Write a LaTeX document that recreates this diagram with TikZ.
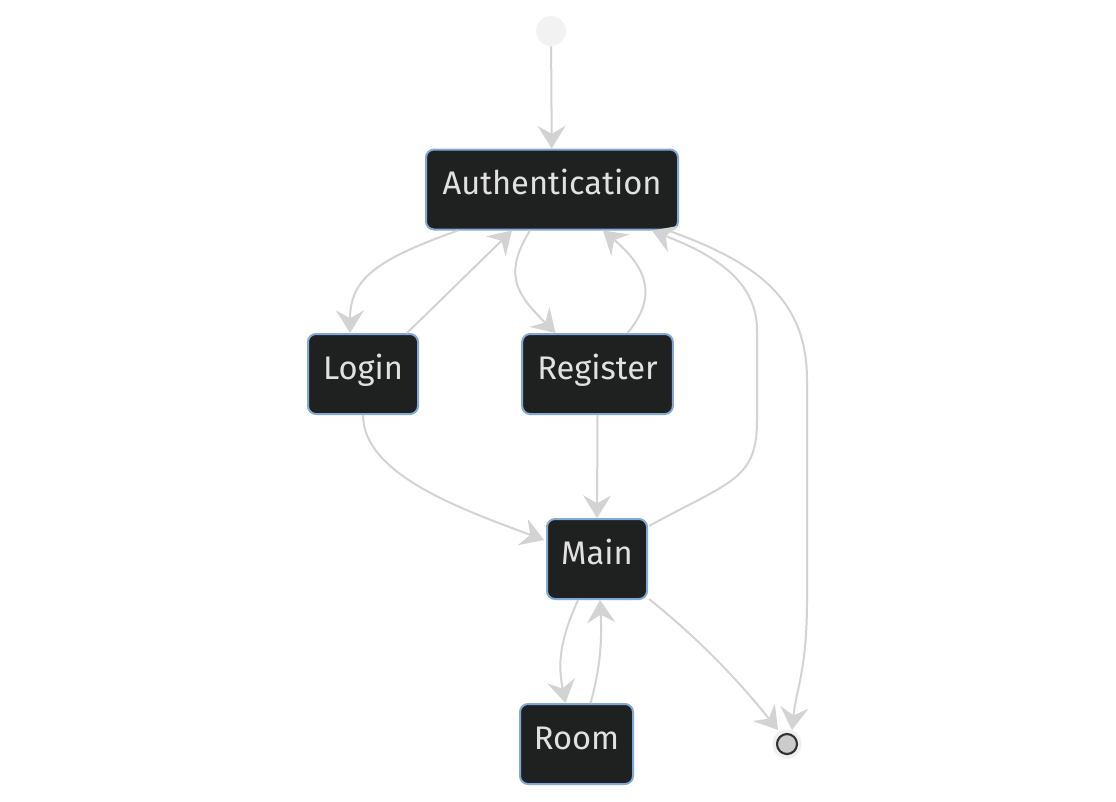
\documentclass[tikz,border=0pt]{standalone}
\usepackage{fontspec}
\setmainfont{Fira Sans}
\usetikzlibrary{arrows.meta}
\definecolor{boxfill}{HTML}{1F2020}
\definecolor{boxline}{HTML}{81A9D6}
\definecolor{boxtext}{HTML}{E2E1E1}
\definecolor{wire}{HTML}{D3D3D3}
\begin{document}
\begin{tikzpicture}[x=0.75pt,y=-0.75pt,
    state/.style={rectangle,rounded corners=6pt,draw=boxline,line width=1.5pt,fill=boxfill,
        text=boxtext,font=\fontsize{24.5}{28}\selectfont,minimum height=60pt,inner sep=0pt,
        text height=8pt,text depth=0pt},
    trans/.style={draw=wire,line width=1.5pt,-{Stealth[length=17pt,width=21pt,inset=6pt]}}]
    \useasboundingbox (0,0) rectangle (1116,801);

    \begin{scope}
        \node [circle,fill=black!5,minimum size=22.5pt,inner sep=0pt] (start) at (551,31) {};
        \node [state,minimum width=189pt] (auth) at (552,189.5) {Authentication};
        \node [state,minimum width=82.5pt] (login) at (363,374) {Login};
        \node [state,minimum width=113pt] (reg) at (597.5,374) {Register};
        \node [state,minimum width=75pt] (main) at (597,559) {Main};
        \node [state,minimum width=84.75pt] (room) at (576.5,744) {Room};
        \node [circle,fill=black!6,minimum size=22pt,inner sep=0pt] (stop) at (787,744) {};
        \node [circle,draw=black!80,line width=1.6pt,fill=black!20,minimum size=15pt,inner sep=0pt] at (stop) {};
    \end{scope}

    \begin{scope}
        \draw [trans] (start) -- (auth);
        \draw [trans] ([shift={(-94,0)}]auth.south) .. controls +(-78,28) and +(0,-56) .. ([shift={(-13,0)}]login.north);
        \draw [trans] ([shift={(44,0)}]login.north) -- ([shift={(-40,0)}]auth.south);
        \draw [trans] ([shift={(-22,0)}]auth.south) .. controls +(-28,45) and +(-38,-38) .. ([shift={(-42,0)}]reg.north);
        \draw [trans] ([shift={(30,0)}]reg.north) .. controls +(30,-36) and +(45,38) .. ([shift={(51,0)}]auth.south);
        \draw [trans] ([shift={(1,8)}]main.north east) .. controls +(82,-45) and +(0,60) .. (757,420)
            -- (757,330) .. controls +(0,-55) and +(50,20) .. ([shift={(100,0)}]auth.south);
        \draw [trans] ([shift={(116,0)}]auth.south) .. controls +(90,32) and +(0,-80) .. (807,380)
            -- (807,600) .. controls +(0,70) and +(4,-40) .. ([shift={(5,-14)}]stop.center);
        \draw [trans] (login.south) .. controls +(0,60) and +(-80,-30) .. ([shift={(-2,-19)}]main.west);
        \draw [trans] (reg.south) -- (main.north);
        \draw [trans] ([shift={(-19,0)}]main.south) .. controls +(-18,40) and +(-8,-40) .. ([shift={(-11,0)}]room.north);
        \draw [trans] ([shift={(14,0)}]room.north) .. controls +(10,-35) and +(2,40) .. ([shift={(3,0)}]main.south);
        \draw [trans] ([shift={(1,-1)}]main.south east) .. controls +(50,40) and +(-40,-50) .. ([shift={(-9,-14)}]stop.center);
    \end{scope}
\end{tikzpicture}
\end{document}
